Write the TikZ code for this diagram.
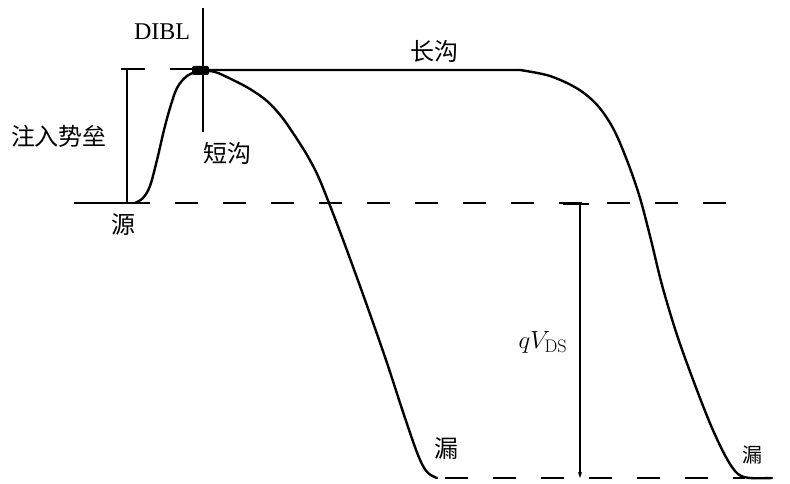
\documentclass[tikz,border=0pt]{standalone}
\usepackage{fontspec}
\newfontfamily\cjk{Noto Sans CJK SC}
\newfontfamily\serifA{Liberation Serif}
\usetikzlibrary{arrows.meta}
\begin{document}
\begin{tikzpicture}[x=1pt,y=-1pt,
  curve/.style={line width=2.4pt,line join=round,line cap=round},
  level/.style={line width=1.5pt},
  dashlevel/.style={line width=1.5pt,dash pattern=on 23pt off 25pt},
  marker/.style={line width=1.3pt},
  cjklabel/.style={font=\cjk\fontsize{24}{26}\selectfont,inner sep=0pt},
  latlabel/.style={font=\serifA\fontsize{24}{26}\selectfont,inner sep=0pt}]
\useasboundingbox (0,0) rectangle (790,484);
\fill[white] (0,0) rectangle (790,484);
% levels
\coordinate (tl) at (122,69);
\coordinate (tr) at (198,69);
\draw[dashlevel] (tl) -- (tr);
\coordinate (sl) at (74,203);
\coordinate (sm) at (150,203);
\coordinate (sd) at (175,203);
\coordinate (sr) at (735,203);
\draw[level] (sl) -- (sm);
\draw[dashlevel] (sd) -- (sr);
\coordinate (bl) at (445,478);
\coordinate (br) at (745,478);
\draw[dashlevel] (bl) -- (br);
% short channel curve
\draw[curve] plot[smooth,tension=0.55] coordinates {(135,203) (143,198) (150,186) (157,160) (164,130) (170,108) (177,88) (187,76) (200,71)
 (215,72) (233,80) (250,89) (267,101) (281,116) (293,133) (307,155) (318,176) (329,203) (345,245) (365,300) (386,360) (404,415) (418,455) (427,472) (437,478)};
% long channel curve
\draw[curve] (200,71) -- (203,70) -- (520,70);
\draw[curve] plot[smooth,tension=0.55] coordinates {(520,70) (550,76) (578,89) (598,106) (614,130) (628,163) (640,198) (651,240) (662,285) (677,335) (695,385) (712,428) (727,459) (738,474) (750,478) (772,478)};
% peak blob
\fill[rounded corners=2pt] (192,66) rectangle (209,75);
% DIBL marker
\coordinate (dt) at (203,8);
\coordinate (db) at (203,132);
\draw[marker] (dt) -- (db);
% injection barrier
\coordinate (it) at (127,69);
\coordinate (ib) at (127,203);
\draw[marker] (it) -- (ib);
\draw[line width=2pt] (121,69) -- (134,69);
% qVDS
\coordinate (qt) at (580,205);
\coordinate (qb) at (580,478);
\draw[marker,-{Stealth[length=6pt,width=4pt]}] (qt) -- (qb);
\draw[line width=2pt] (563,204) -- (589,204);
% labels
\node[latlabel] (dibl) at (162,32) {DIBL};
\node[cjklabel] (inj) at (59,136) {注入势垒};
\node[cjklabel] (short) at (227,153) {短沟};
\node[cjklabel] (src) at (123,225) {源};
\node[cjklabel] (long) at (434,51) {长沟};
\node[cjklabel] (drainA) at (446,448) {漏};
\node[cjklabel,font=\cjk\fontsize{20}{22}\selectfont] (drainB) at (752,455) {漏};
\node[inner sep=0pt,font=\fontsize{26}{28}\selectfont] (qv) at (543,342) {$qV_{\mathrm{DS}}$};
\end{tikzpicture}
\end{document}
